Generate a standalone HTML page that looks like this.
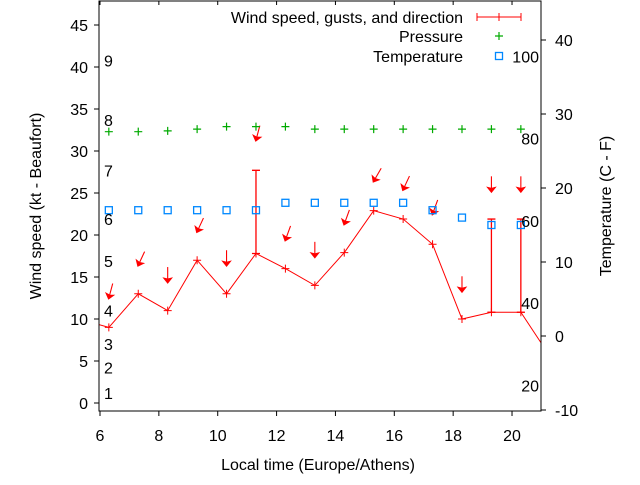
<!DOCTYPE html>
<html><head><meta charset="utf-8"><style>
body{margin:0;background:#fff}
svg{font-family:"Liberation Sans",sans-serif;font-size:16px}
</style></head><body>
<svg id="chart" width="640" height="480" viewBox="0 0 640 480" xmlns="http://www.w3.org/2000/svg">
<defs><clipPath id="clip"><rect x="99" y="1" width="442" height="410"/></clipPath></defs>
<g id="grid"></g>
<g id="plot" clip-path="url(#clip)"></g>
<g id="axes"></g>
</svg>
<script>
const hours=[5.3,6.3,7.3,8.3,9.3,10.3,11.3,12.3,13.3,14.3,15.3,16.3,17.3,18.3,19.3,20.3,21.3];
const windKt=[10,9,13,11,17,13,17.8,16,14,17.9,22.9,21.9,18.9,10,10.8,10.8,5.5];
const gustHours=[11.3,19.3,20.3];
const gustKt=[27.7,21.9,21.9];
const gustBase=[17.8,10.8,10.8];
const dirHours=[6.3,7.3,8.3,9.3,10.3,11.3,12.3,13.3,14.3,15.3,16.3,17.3,18.3,19.3,20.3];
const dirPos=[12.5,16.4,14.4,20.4,16.4,31.3,19.4,17.4,21.3,26.4,25.4,22.5,13.3,25.2,25.2];
const dirAngle=[15,25,0,25,0,15,20,0,20,30,25,20,0,0,0];
const pressHours=[6.3,7.3,8.3,9.3,10.3,11.3,12.3,13.3,14.3,15.3,16.3,17.3,18.3,19.3,20.3];
const pressPos=[32.3,32.3,32.4,32.6,32.9,32.9,32.9,32.6,32.6,32.6,32.6,32.6,32.6,32.6,32.6];
const tempHours=[6.3,7.3,8.3,9.3,10.3,11.3,12.3,13.3,14.3,15.3,16.3,17.3,18.3,19.3,20.3];
const tempC=[17,17,17,17,17,17,18,18,18,18,18,17,16,15,15];
const xTicks=[6,8,10,12,14,16,18,20];
const yTicks=[0,5,10,15,20,25,30,35,40,45];
const y2Ticks=[-10,0,10,20,30,40];
const beaufortLabels=["1","2","3","4","5","6","7","8","9"];
const beaufortPos=[1.2,4.2,7.0,11,16.9,21.9,27.7,33.7,40.8];
const fLabels=["20","40","60","80","100"];
const fValues=[20,40,60,80,100];

const L=99,R=541,T=1,B=411;
const X=t=>100+(t-6)*29.43;
const Y=v=>403-v*8.4;
const Y2=c=>336-c*7.4;
const NS="http://www.w3.org/2000/svg";
function mk(tag,attrs,parent,text){const e=document.createElementNS(NS,tag);for(const k in attrs)e.setAttribute(k,attrs[k]);if(text!==undefined)e.textContent=text;parent.appendChild(e);return e;}
const plot=document.getElementById('plot'),axes=document.getElementById('axes');

let e=mk('polyline',{points:hours.map((h,i)=>X(h)+','+Y(windKt[i])).join(' '),fill:'none',stroke:'#f00','stroke-width':1},plot);


hours.forEach((h,i)=>{const x=X(h),y=Y(windKt[i]);
 const p=mk('path',{d:`M${x-4},${y}H${x+4}M${x},${y-4}V${y+4}`,stroke:'#f00','stroke-width':1},plot);
 
 });
gustHours.forEach((h,i)=>{const x=X(h),y1=Y(gustBase[i]),y2=Y(gustKt[i]);
 const p=mk('path',{d:`M${x},${y1}V${y2}M${x-4},${y2}H${x+4}M${x-4},${y1}H${x+4}`,stroke:'#f00','stroke-width':1.3},plot);
 
 });
dirHours.forEach((h,i)=>{const x=X(h),y=Y(dirPos[i]);
 const g=mk('g',{transform:`translate(${x},${y}) rotate(${dirAngle[i]})`},plot);
 
 
 mk('path',{d:'M0,-15V-3',stroke:'#f00','stroke-width':1.1},g);
 mk('path',{d:'M-4,-4L0,1L4,-4L0,-3Z',fill:'#f00',stroke:'#f00','stroke-width':1},g);});
pressHours.forEach((h,i)=>{const x=X(h),y=Y(pressPos[i]);
 const p=mk('path',{d:`M${x-4},${y}H${x+4}M${x},${y-4}V${y+4}`,stroke:'#0a0','stroke-width':1.2},plot);
 
 });
tempHours.forEach((h,i)=>{const x=X(h),y=Y2(tempC[i]);
 const r=mk('rect',{x:x-3.5,y:y-3.5,width:7,height:7,fill:'none',stroke:'#08f','stroke-width':1.3},plot);
 
 });

e=mk('rect',{x:L,y:T,width:R-L,height:B-T,fill:'none',stroke:'#000','stroke-width':1},axes);


xTicks.forEach(t=>{const x=X(t);
 mk('path',{d:`M${x},${B}V${B+5}M${x},${T}V${T+4}`,stroke:'#000'},axes);
 const tx=mk('text',{x:x,y:441,'text-anchor':'middle'},axes,String(t));
 
 });
yTicks.forEach(v=>{const y=Y(v);
 mk('path',{d:`M${L-5},${y}H${L}`,stroke:'#000'},axes);
 const tx=mk('text',{x:88,y:y+6,'text-anchor':'end'},axes,String(v));
 
 });
y2Ticks.forEach(v=>{const y=Y2(v);
 mk('path',{d:`M${R},${y}H${R+5}`,stroke:'#000'},axes);
 const tx=mk('text',{x:555,y:y+6},axes,String(v));
 
 });
beaufortLabels.forEach((s,i)=>{const tx=mk('text',{x:104,y:Y(beaufortPos[i])+6},axes,s);
 
 });
fLabels.forEach((s,i)=>{const tx=mk('text',{x:539,y:Y2((fValues[i]-32)*5/9)+6,'text-anchor':'end'},axes,s);
 
 });
</script>
<script>
const ax=document.getElementById('axes');
function t2(tag,attrs,text,name){const e=document.createElementNS("http://www.w3.org/2000/svg",tag);for(const k in attrs)e.setAttribute(k,attrs[k]);if(text)e.textContent=text;ax.appendChild(e);


return e;}
t2('text',{x:318,y:470,'text-anchor':'middle'},'Local time (Europe/Athens)','x-axis-title');
t2('text',{x:0,y:0,'text-anchor':'middle',transform:'translate(41,206) rotate(-90)'},'Wind speed (kt - Beaufort)','y-axis-title');
t2('text',{x:0,y:0,'text-anchor':'middle',transform:'translate(611,206) rotate(-90)'},'Temperature (C - F)','y2-axis-title');
t2('text',{x:463,y:23,'text-anchor':'end'},'Wind speed, gusts, and direction','legend-wind-label');
t2('path',{d:'M477,17H521M477,13V21M521,13V21M499,13V21',stroke:'#f00','stroke-width':1},'','legend-wind-sample');
t2('text',{x:463,y:42,'text-anchor':'end'},'Pressure','legend-pressure-label');
t2('path',{d:'M495,36H503M499,32V40',stroke:'#0a0','stroke-width':1.2},'','legend-pressure-sample');
t2('text',{x:463,y:62,'text-anchor':'end'},'Temperature','legend-temperature-label');
t2('rect',{x:495.5,y:52.5,width:7,height:7,fill:'none',stroke:'#08f','stroke-width':1.3},'','legend-temperature-sample');
</script>
</body></html>
